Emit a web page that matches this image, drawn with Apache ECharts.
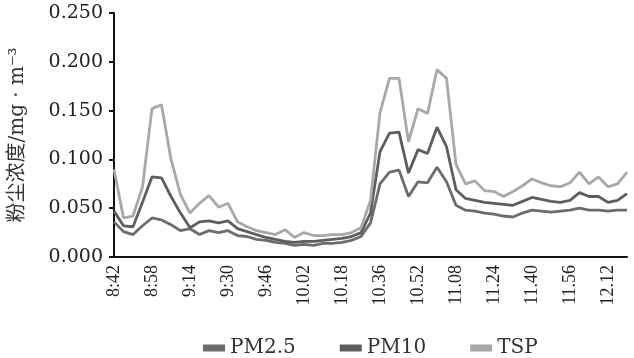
<!DOCTYPE html>
<html>
<head>
<meta charset="utf-8">
<script src="https://cdn.jsdelivr.net/npm/echarts@6/dist/echarts.min.js"></script>
<style>html,body{margin:0;padding:0;background:#fff;}#c{width:634px;height:358px;}</style>
</head>
<body>
<div id="c"></div>
<script>
var categories = ['8:42','8:46','8:50','8:54','8:58','9:02','9:06','9:10','9:14','9:18','9:22','9:26','9:30','9:34','9:38','9:42','9:46','9:50','9:54','9:58',
  '10.02','10.06','10.10','10.14','10.18','10.22','10.27','10.32','10.36','10.40','10.44','10.48','10.52','10.56','11.00','11.04',
  '11.08','11.12','11.16','11.20','11.24','11.28','11.32','11.36','11.40','11.44','11.48','11.52','11.56','12.00','12.04','12.08','12.12','12.16','12.20'];

var pm25 = [0.036,0.026,0.023,0.032,0.040,0.038,0.033,0.027,0.029,0.023,0.027,0.025,0.027,0.022,0.021,0.018,0.017,0.015,0.014,0.012,
  0.013,0.012,0.014,0.014,0.015,0.017,0.021,0.035,0.075,0.087,0.089,0.062,0.077,0.076,0.092,0.077,
  0.053,0.048,0.047,0.045,0.044,0.042,0.041,0.045,0.048,0.047,0.046,0.047,0.048,0.050,0.048,0.048,0.047,0.048,0.048];

var pm10 = [0.047,0.032,0.031,0.056,0.082,0.081,0.062,0.045,0.030,0.036,0.037,0.035,0.037,0.029,0.026,0.023,0.020,0.018,0.016,0.015,
  0.016,0.016,0.017,0.018,0.019,0.021,0.025,0.045,0.108,0.127,0.128,0.086,0.110,0.106,0.133,0.113,
  0.069,0.060,0.058,0.056,0.055,0.054,0.053,0.057,0.061,0.059,0.057,0.056,0.058,0.066,0.062,0.062,0.056,0.058,0.065];

var tsp = [0.090,0.040,0.042,0.072,0.152,0.156,0.100,0.064,0.045,0.055,0.063,0.051,0.055,0.036,0.031,0.027,0.025,0.023,0.028,0.020,
  0.025,0.022,0.022,0.023,0.023,0.025,0.030,0.058,0.148,0.183,0.183,0.118,0.152,0.147,0.192,0.183,
  0.095,0.075,0.078,0.068,0.067,0.062,0.067,0.073,0.080,0.076,0.073,0.072,0.076,0.087,0.075,0.082,0.072,0.075,0.087];

var seriesNames = ['PM2.5','PM10','TSP'];
var yTicks = {min: 0, max: 0.25, step: 0.05};

var chart = echarts.init(document.getElementById('c'), null, {renderer: 'canvas'});
var colors = ['#6c6c6c', '#5e5e5e', '#a8a8a8'];
function mk(name, data, color) {
  return {name: name, type: 'line', data: data, symbol: 'none', smooth: false,
    lineStyle: {color: color, width: 2.8}, itemStyle: {color: color}, z: 2};
}
chart.setOption({
  animation: false,
  backgroundColor: '#ffffff',
  grid: {left: 111, right: 7, top: 13, bottom: 101, containLabel: false},
  legend: {
    data: seriesNames, left: 198, top: 333, icon: 'rect', itemWidth: 22, itemHeight: 7, itemGap: 44,
    textStyle: {fontFamily: 'DejaVu Serif', fontSize: 20, color: '#333'}
  },
  xAxis: {
    type: 'category', data: categories, boundaryGap: false,
    axisLine: {lineStyle: {color: '#111', width: 2}},
    axisTick: {show: false},
    axisLabel: {interval: 3, rotate: 90, margin: 8, fontFamily: 'Liberation Serif', fontSize: 18, color: '#222'}
  },
  yAxis: {
    type: 'value', min: yTicks.min, max: yTicks.max, interval: yTicks.step,
    name: '粉尘浓度/mg · m⁻³', nameLocation: 'middle', nameGap: 86, nameRotate: 90,
    nameTextStyle: {fontFamily: 'DejaVu Serif, "Noto Sans CJK SC"', fontSize: 20, color: '#333'},
    axisLine: {show: true, lineStyle: {color: '#111', width: 2}},
    axisTick: {show: true, length: 5, lineStyle: {color: '#111', width: 2}},
    splitLine: {show: false},
    axisLabel: {margin: 11, fontFamily: 'DejaVu Serif', fontSize: 19, color: '#222',
      formatter: function (v) { return v.toFixed(3); }}
  },
  series: [mk(seriesNames[0], pm25, colors[0]), mk(seriesNames[1], pm10, colors[1]), mk(seriesNames[2], tsp, colors[2])]
});
</script>
</body>
</html>
